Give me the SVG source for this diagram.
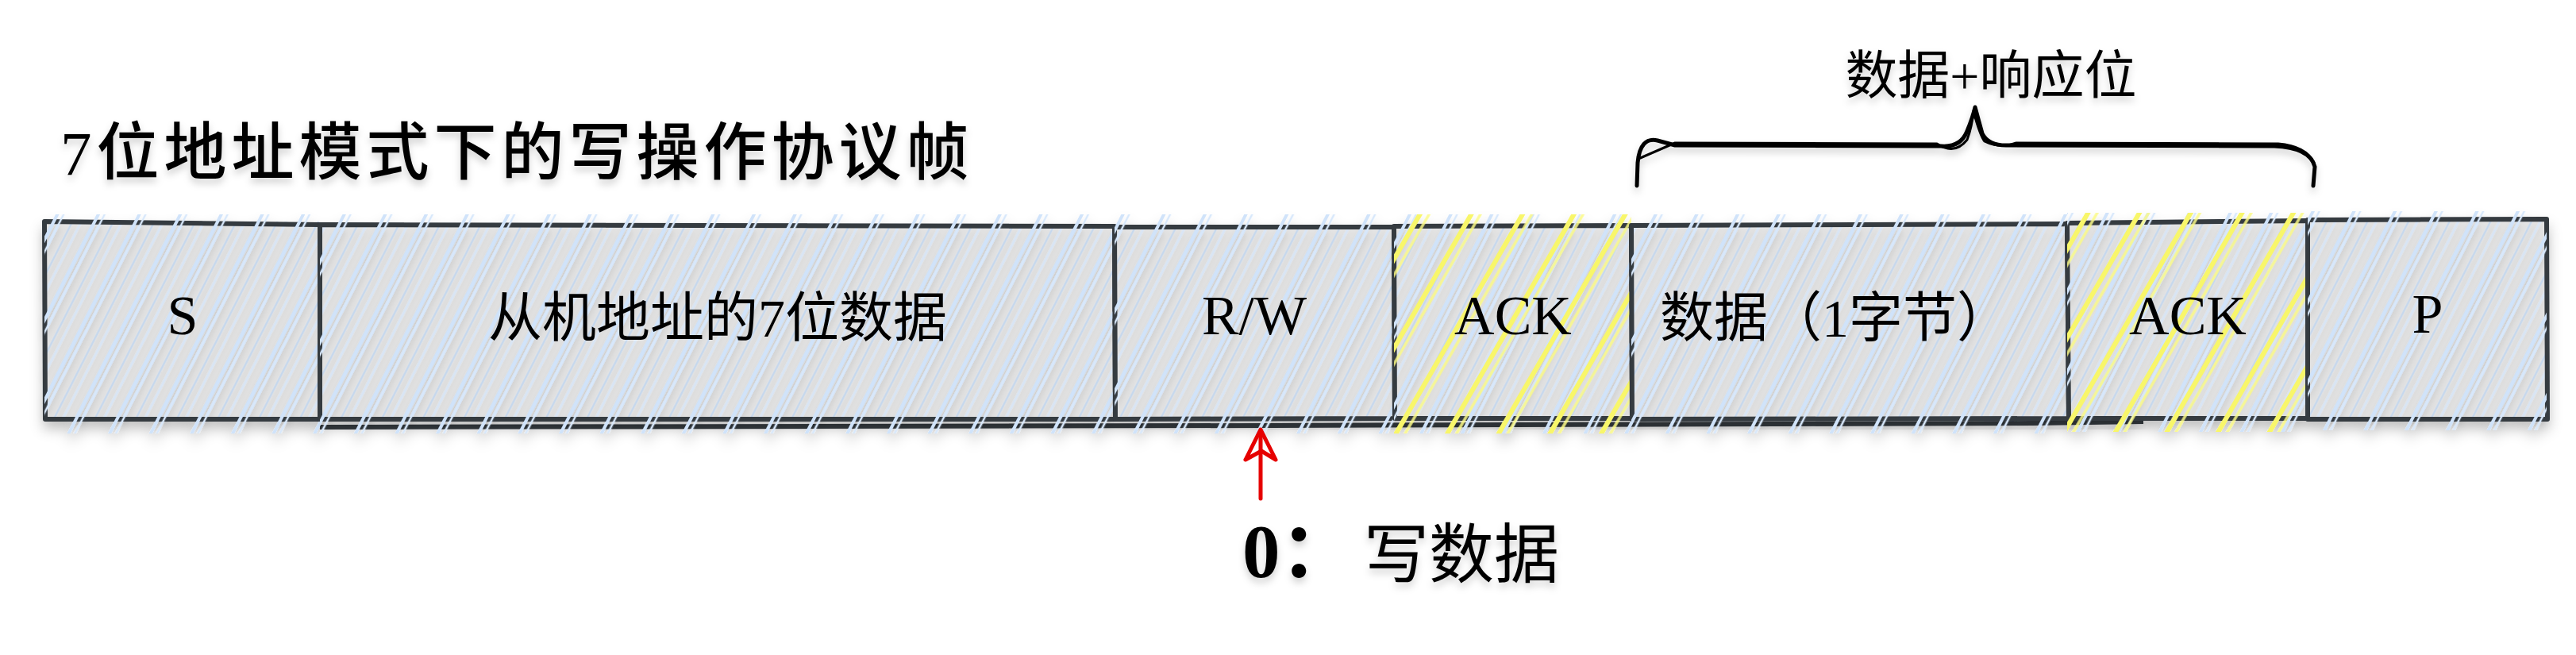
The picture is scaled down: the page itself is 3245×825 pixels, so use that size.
<svg xmlns="http://www.w3.org/2000/svg" width="3245" height="825" viewBox="0 0 3245 825">
<style>
.txt{font-family:"Liberation Serif","Noto Sans CJK SC",serif;fill:#000}
.lbl{font-size:70px;text-anchor:middle}
.lblc{font-size:68px;text-anchor:middle}
.fill{fill:#e6e6e6}
.edge{fill:none;stroke:#343a40;stroke-width:6;stroke-linejoin:round}
.hb{fill:url(#hb)}
.ht{fill:url(#ht)}
.hy{fill:url(#hy)}
.ink{fill:none;stroke:#000;stroke-linecap:round;stroke-linejoin:round}
</style>
<defs>
<filter id="sh" x="-5%" y="-30%" width="110%" height="170%">
<feDropShadow dx="0" dy="10" stdDeviation="8" flood-color="#000" flood-opacity="0.22"/>
</filter>
<filter id="shs" x="-5%" y="-30%" width="110%" height="170%">
<feDropShadow dx="0" dy="6" stdDeviation="5" flood-color="#000" flood-opacity="0.18"/>
</filter>
<pattern id="hb" patternUnits="userSpaceOnUse" width="46" height="400" patternTransform="rotate(27)">
<line x1="3" y1="0" x2="3" y2="400" stroke="#c8ddf7" stroke-width="4.5"/>
<line x1="10" y1="0" x2="10" y2="400" stroke="#d3e4fa" stroke-width="3.5"/>
<line x1="24" y1="0" x2="24" y2="400" stroke="#bcd4f1" stroke-width="2.5" opacity="0.75"/>
<line x1="34" y1="0" x2="34" y2="400" stroke="#d6e6fa" stroke-width="3" opacity="0.8"/>
</pattern>
<pattern id="ht" patternUnits="userSpaceOnUse" width="46" height="400" patternTransform="rotate(27)">
<line x1="3" y1="0" x2="3" y2="400" stroke="#d0e3fa" stroke-width="4"/>
<line x1="10" y1="0" x2="10" y2="400" stroke="#d8e8fb" stroke-width="2.5"/>
</pattern>
<pattern id="hy" patternUnits="userSpaceOnUse" width="56" height="400" patternTransform="rotate(30)">
<line x1="4" y1="0" x2="4" y2="400" stroke="#f8f66a" stroke-width="6"/>
<line x1="14" y1="0" x2="14" y2="400" stroke="#fbfa86" stroke-width="3.5" opacity="0.85"/>
</pattern>
</defs>
<rect width="3245" height="825" fill="#fff"/>

<g id="title" filter="url(#shs)">
<text class="txt" x="76" y="220" font-size="79" font-weight="500" letter-spacing="6">7位地址模式下的写操作协议帧</text>
</g>

<g id="frame" filter="url(#sh)">
<path d="M403,538 L1600,536 L2560,533 L2700,531" fill="none" stroke="#343a40" stroke-width="6"/>
</g>

<g filter="url(#sh)">
<g id="n-s">
<path class="fill" d="M56,279 L403,283 L404,528 L57,528 Z"/>
<rect class="hb" x="56" y="279" width="347" height="249" filter="url(#shs)"/>
<path class="edge" d="M56,279 L403,283 L404,528 L57,528 Z"/>
<rect class="ht" x="56" y="270" width="347" height="276"/>
<text class="txt lbl" x="230" y="421">S</text>
</g>
<g id="n-addr">
<path class="fill" d="M403,283 L1404,285 L1405,528 L403,528 Z"/>
<rect class="hb" x="403" y="283" width="1001" height="245" filter="url(#shs)"/>
<path class="edge" d="M403,283 L1404,285 L1405,528 L403,528 Z"/>
<rect class="ht" x="403" y="270" width="1001" height="276"/>
<text class="txt lblc" x="904" y="424">从机地址的7位数据</text>
</g>
<g id="n-rw">
<path class="fill" d="M1404,286 L1756,286 L1757,527 L1405,528 Z"/>
<rect class="hb" x="1404" y="286" width="352" height="241" filter="url(#shs)"/>
<path class="edge" d="M1404,286 L1756,286 L1757,527 L1405,528 Z"/>
<rect class="ht" x="1404" y="270" width="352" height="276"/>
<text class="txt lbl" x="1580" y="421">R/W</text>
</g>
<g id="n-ack1">
<path class="fill" d="M1756,285 L2055,284 L2056,527 L1757,527 Z"/>
<rect class="hb" x="1756" y="285" width="299" height="242" filter="url(#shs)"/>
<path class="edge" d="M1756,285 L2055,284 L2056,527 L1757,527 Z"/>
<rect class="ht" x="1756" y="270" width="299" height="276"/>
<rect class="hy" x="1756" y="270" width="299" height="276"/>
<text class="txt lbl" x="1906" y="421">ACK</text>
</g>
<g id="n-data">
<path class="fill" d="M2055,284 L2604,282 L2606,527 L2056,528 Z"/>
<rect class="hb" x="2055" y="283" width="549" height="245" filter="url(#shs)"/>
<path class="edge" d="M2055,284 L2604,282 L2606,527 L2056,528 Z"/>
<rect class="ht" x="2055" y="270" width="549" height="276"/>
<text class="txt lblc" x="2312" y="424">数据（1字节）</text>
</g>
<g id="n-ack2">
<path class="fill" d="M2604,281 L2907,278 L2907,527 L2606,527 Z"/>
<rect class="hb" x="2604" y="279" width="303" height="248" filter="url(#shs)"/>
<path class="edge" d="M2604,281 L2907,278 L2907,527 L2606,527 Z"/>
<rect class="ht" x="2604" y="268" width="303" height="276"/>
<rect class="hy" x="2604" y="268" width="303" height="276"/>
<text class="txt lbl" x="2756" y="421">ACK</text>
</g>
<g id="n-p">
<path class="fill" d="M2907,277 L3208,276 L3209,528 L2907,528 Z"/>
<rect class="hb" x="2907" y="276" width="301" height="252" filter="url(#shs)"/>
<path class="edge" d="M2907,277 L3208,276 L3209,528 L2907,528 Z"/>
<rect class="ht" x="2907" y="266" width="301" height="276"/>
<text class="txt lbl" x="3058" y="419">P</text>
</g>
</g>

<g id="brace" filter="url(#shs)">
<path class="ink" stroke-width="5" d="M2062,234 L2063,205 Q2066,172 2088,177 L2110,183 L2445,184 Q2470,186 2478,165 Q2485,148 2488,135 Q2492,150 2497,168 Q2505,184 2530,183 L2865,184 Q2910,186 2916,210 L2914,234"/>
<path class="ink" stroke-width="3" d="M2064,200 L2110,180 L2440,181 Q2462,196 2478,176 Q2484,160 2486,140 Q2494,170 2500,178 Q2520,188 2540,180 L2870,181 Q2905,184 2915,205"/>
<text class="txt" x="2508" y="118" font-size="66" text-anchor="middle">数据+响应位</text>
</g>

<g id="connectors">
<path d="M1588,628 L1588,544" fill="none" stroke="#e60000" stroke-width="5" stroke-linecap="round"/>
<path d="M1569,579 L1588,541 L1607,579 L1589,568 L1569,579" fill="none" stroke="#e60000" stroke-width="5" stroke-linejoin="round" stroke-linecap="round"/>
</g>

<g id="note" filter="url(#shs)">
<text class="txt" x="1565" y="727"><tspan font-size="95" font-weight="bold">0：</tspan><tspan x="1718" font-size="82">写数据</tspan></text>
</g>
</svg>
